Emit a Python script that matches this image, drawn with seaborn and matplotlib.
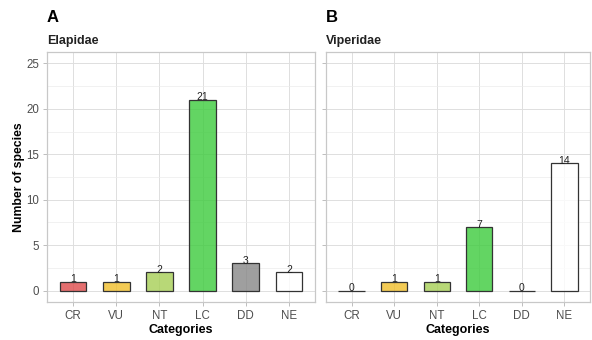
import numpy as np
import pandas as pd
import matplotlib
matplotlib.use("Agg")
import matplotlib.pyplot as plt
from matplotlib.colors import to_rgba
from matplotlib.ticker import MultipleLocator
import seaborn as sns

categories = ["CR", "VU", "NT", "LC", "DD", "NE"]
elapidae = [1, 1, 2, 21, 3, 2]
viperidae = [0, 1, 1, 7, 0, 14]
families = ["Elapidae", "Viperidae"]
panel_tags = ["A", "B"]
colors = ["#DE4B4B", "#F0BE2A", "#A6CF55", "#3CCB3C", "#878787", "#FFFFFF"]

sns.set_theme(style="white")
plt.rcParams["font.family"] = ["Liberation Sans", "DejaVu Sans"]

fig = plt.figure(figsize=(5.92, 3.40), dpi=100)
W, H = 592, 340
boxes = [(47, 315), (326, 590)]
top, bottom = 52, 302

palette = dict(zip(categories, colors))
for i, (vals, fam, tag) in enumerate(zip([elapidae, viperidae], families, panel_tags)):
    x0, x1 = boxes[i]
    ax = fig.add_axes([x0 / W, 1 - bottom / H, (x1 - x0) / W, (bottom - top) / H])
    df = pd.DataFrame({"Categories": categories, "n": vals})
    sns.barplot(data=df, x="Categories", y="n", hue="Categories", palette=palette,
                order=categories, hue_order=categories, width=0.62,
                edgecolor="#333333", linewidth=0.9, legend=False, ax=ax)
    for p, c in zip(ax.patches, colors):
        p.set_facecolor(to_rgba(c, 0.8))
    for k, v in enumerate(vals):
        ax.text(k, v - 0.3, str(v), ha="center", va="bottom", fontsize=7.5, color="#222222")

    ax.set_xlim(-0.6, 5.6)
    ax.set_ylim(-1.25, 26.25)
    ax.yaxis.set_major_locator(MultipleLocator(5))
    ax.yaxis.set_minor_locator(MultipleLocator(2.5))
    ax.set_axisbelow(True)
    ax.grid(which="major", color="#DEDEDE", linewidth=0.7)
    ax.grid(which="minor", axis="y", color="#EBEBEB", linewidth=0.5)
    ax.set_facecolor("white")
    for s in ax.spines.values():
        s.set_color("#C8C8C8")
        s.set_linewidth(0.9)
    ax.tick_params(axis="both", which="major", length=3, width=0.6, color="#B3B3B3",
                   labelsize=8.3, labelcolor="#4D4D4D", pad=2.5, bottom=True, left=True)
    ax.tick_params(axis="y", which="minor", length=0)
    ax.set_xlabel("Categories", fontsize=9, fontweight="bold", color="black", labelpad=2)
    if i == 0:
        ax.set_ylabel("Number of species", fontsize=8.8, fontweight="bold", color="black", labelpad=1)
    else:
        ax.set_ylabel("")
        ax.set_yticklabels([])

    fig.text(x0 / W, 1 - 41 / H, fam, fontsize=9, fontweight="bold", color="#222222",
             ha="left", va="center")
    fig.text(x0 / W, 1 - 18 / H, tag, fontsize=12, fontweight="bold", color="black",
             ha="left", va="center")

fig.savefig("out.png", dpi=100, facecolor="white")
